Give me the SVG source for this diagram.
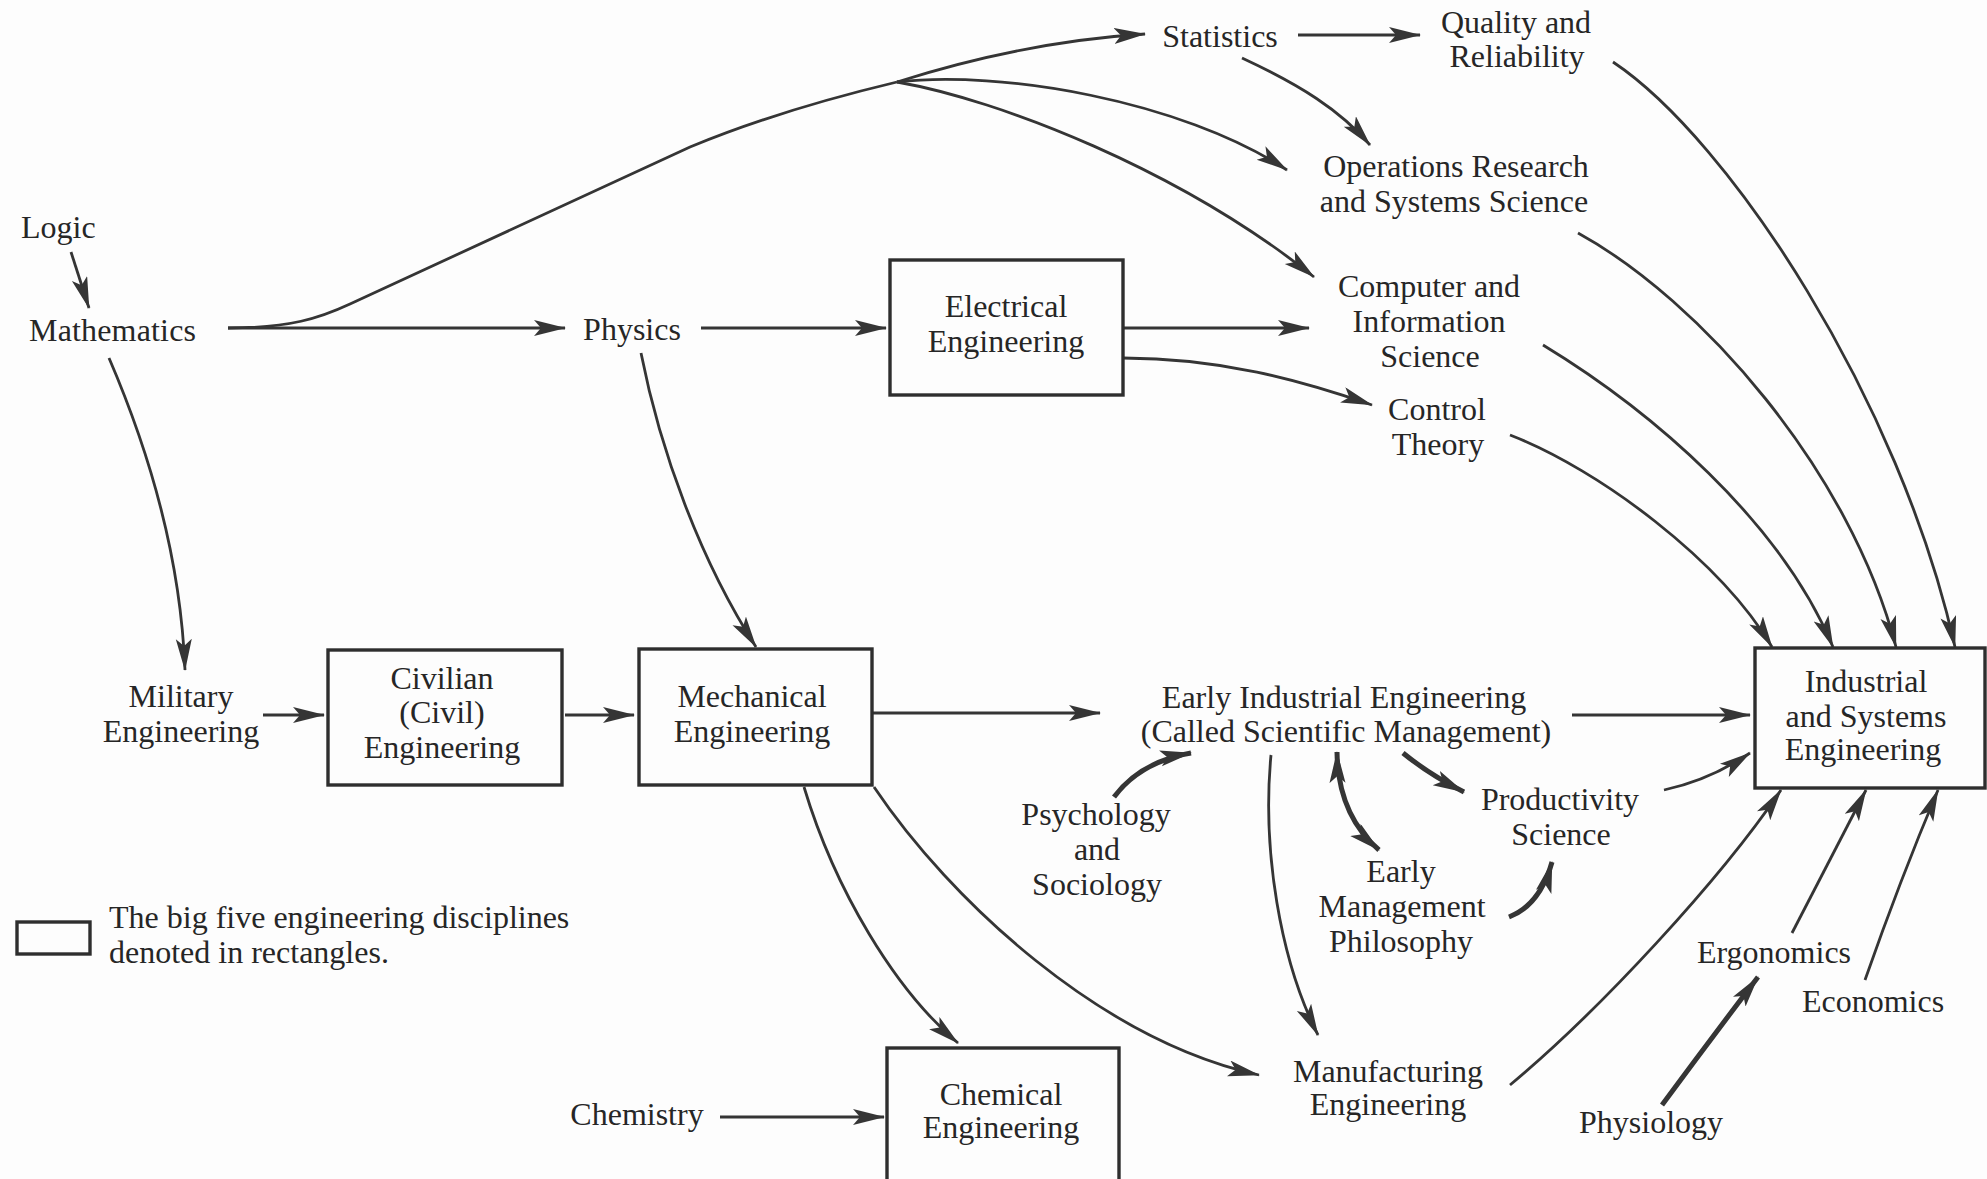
<svg xmlns="http://www.w3.org/2000/svg" width="1987" height="1179" viewBox="0 0 1987 1179">
  <defs>
    <style>
      text { font-family: "Liberation Serif", "Times New Roman", serif; font-size: 32px; fill: #262626; }
      .c { text-anchor: middle; }
      .box { fill: none; stroke: #2e2e2e; stroke-width: 3.4; }
      .ln { fill: none; stroke: #353535; stroke-width: 2.8; }
      .thick { fill: none; stroke: #353535; stroke-width: 5; }
    </style>
    <marker id="ah" markerUnits="userSpaceOnUse" markerWidth="34" markerHeight="18" refX="31" refY="8" orient="auto">
      <path d="M0,0 L32,8 L0,16 L7,8 Z" fill="#353535"/>
    </marker>
    <marker id="ahs" markerUnits="userSpaceOnUse" markerWidth="34" markerHeight="18" refX="31" refY="8" orient="auto-start-reverse">
      <path d="M0,0 L32,8 L0,16 L7,8 Z" fill="#353535"/>
    </marker>
  </defs>
  <rect width="1987" height="1179" fill="#fdfdfd"/>

  <!-- connectors -->
  <g id="connectors">
    <path class="ln" d="M71,252 L89,308" marker-end="url(#ah)"/>
    <path class="ln" d="M228,328 L565,328" marker-end="url(#ah)"/>
    <path class="ln" d="M228,328 C290,328 320,318 350,304 L690,147 C760,118 830,98 897,82"/>
    <path class="ln" d="M897,82 C960,62 1050,40 1145,34" marker-end="url(#ah)"/>
    <path class="ln" d="M897,82 C1000,70 1180,100 1287,170" marker-end="url(#ah)"/>
    <path class="ln" d="M897,82 C1000,100 1180,170 1314,277" marker-end="url(#ah)"/>
    <path class="ln" d="M1298,35 L1420,35" marker-end="url(#ah)"/>
    <path class="ln" d="M1242,58 C1300,85 1340,110 1370,145" marker-end="url(#ah)"/>
    <path class="ln" d="M701,328 L886,328" marker-end="url(#ah)"/>
    <path class="ln" d="M1123,328 L1309,328" marker-end="url(#ah)"/>
    <path class="ln" d="M1123,358 C1220,358 1300,380 1372,405" marker-end="url(#ah)"/>
    <path class="ln" d="M641,353 C660,450 700,560 756,647" marker-end="url(#ah)"/>
    <path class="ln" d="M109,358 C140,430 180,540 185,670" marker-end="url(#ah)"/>
    <path class="ln" d="M263,715 L324,715" marker-end="url(#ah)"/>
    <path class="ln" d="M565,715 L634,715" marker-end="url(#ah)"/>
    <path class="ln" d="M872,713 L1100,713" marker-end="url(#ah)"/>
    <path class="ln" d="M1572,715 L1750,715" marker-end="url(#ah)"/>
    <path class="ln" d="M1613,62 C1730,140 1900,400 1955,647" marker-end="url(#ah)"/>
    <path class="ln" d="M1578,233 C1700,300 1850,470 1896,647" marker-end="url(#ah)"/>
    <path class="ln" d="M1543,345 C1650,410 1780,520 1833,647" marker-end="url(#ah)"/>
    <path class="ln" d="M1510,435 C1600,470 1720,560 1772,647" marker-end="url(#ah)"/>
    <path class="ln" d="M1664,790 Q1710,780 1750,753" marker-end="url(#ah)"/>
    <path class="ln" d="M804,787 C835,890 895,990 958,1043" marker-end="url(#ah)"/>
    <path class="ln" d="M874,787 C950,900 1100,1040 1259,1075" marker-end="url(#ah)"/>
    <path class="ln" d="M1271,755 C1262,850 1280,960 1318,1035" marker-end="url(#ah)"/>
    <path class="ln" d="M720,1117 L884,1117" marker-end="url(#ah)"/>
    <path class="ln" d="M1510,1085 C1600,1010 1720,880 1781,790" marker-end="url(#ah)"/>
    <path class="ln" d="M1792,933 Q1830,860 1866,790" marker-end="url(#ah)"/>
    <path class="ln" d="M1865,980 Q1900,880 1938,790" marker-end="url(#ah)"/>
    <path class="thick" d="M1114,797 Q1140,762 1191,753" marker-end="url(#ah)"/>
    <path class="thick" d="M1337,752 Q1338,815 1379,850" marker-start="url(#ahs)" marker-end="url(#ahs)"/>
    <path class="thick" d="M1403,753 Q1430,775 1464,792" marker-end="url(#ah)"/>
    <path class="thick" d="M1509,917 Q1540,905 1552,862" marker-end="url(#ah)"/>
    <path class="thick" d="M1662,1105 Q1710,1040 1758,977" marker-end="url(#ah)"/>
  </g>

  <!-- plain-text nodes -->
  <g id="logic"><text x="21" y="238">Logic</text></g>
  <g id="mathematics"><text x="29" y="341" textLength="167" lengthAdjust="spacing">Mathematics</text></g>
  <g id="physics"><text class="c" x="632" y="340">Physics</text></g>
  <g id="statistics"><text class="c" x="1220" y="47">Statistics</text></g>
  <g id="quality"><text class="c" x="1516" y="33">Quality and</text><text class="c" x="1517" y="67">Reliability</text></g>
  <g id="operations-research"><text class="c" x="1456" y="177">Operations Research</text><text class="c" x="1454" y="212">and Systems Science</text></g>
  <g id="computer"><text class="c" x="1429" y="297">Computer and</text><text class="c" x="1429" y="332">Information</text><text class="c" x="1430" y="367">Science</text></g>
  <g id="control"><text class="c" x="1437" y="420">Control</text><text class="c" x="1438" y="455">Theory</text></g>
  <g id="military"><text class="c" x="181" y="707">Military</text><text class="c" x="181" y="742">Engineering</text></g>
  <g id="early-ie"><text class="c" x="1344" y="708">Early Industrial Engineering</text><text class="c" x="1346" y="742">(Called Scientific Management)</text></g>
  <g id="productivity"><text class="c" x="1560" y="810">Productivity</text><text class="c" x="1561" y="845">Science</text></g>
  <g id="psychology"><text class="c" x="1096" y="825">Psychology</text><text class="c" x="1097" y="860">and</text><text class="c" x="1097" y="895">Sociology</text></g>
  <g id="early-management"><text class="c" x="1401" y="882">Early</text><text class="c" x="1402" y="917">Management</text><text class="c" x="1401" y="952">Philosophy</text></g>
  <g id="manufacturing"><text class="c" x="1388" y="1082">Manufacturing</text><text class="c" x="1388" y="1115">Engineering</text></g>
  <g id="chemistry"><text class="c" x="637" y="1125">Chemistry</text></g>
  <g id="ergonomics"><text class="c" x="1774" y="963">Ergonomics</text></g>
  <g id="economics"><text class="c" x="1873" y="1012">Economics</text></g>
  <g id="physiology"><text class="c" x="1651" y="1133">Physiology</text></g>

  <!-- the big five, boxed -->
  <g id="electrical">
    <rect class="box" x="890" y="260" width="233" height="135"/>
    <text class="c" x="1006" y="317">Electrical</text><text class="c" x="1006" y="352">Engineering</text>
  </g>
  <g id="civil">
    <rect class="box" x="328" y="650" width="234" height="135"/>
    <text class="c" x="442" y="689">Civilian</text><text class="c" x="442" y="723">(Civil)</text><text class="c" x="442" y="758">Engineering</text>
  </g>
  <g id="mechanical">
    <rect class="box" x="639" y="649" width="233" height="136"/>
    <text class="c" x="752" y="707">Mechanical</text><text class="c" x="752" y="742">Engineering</text>
  </g>
  <g id="chemical">
    <rect class="box" x="887" y="1048" width="232" height="145"/>
    <text class="c" x="1001" y="1105">Chemical</text><text class="c" x="1001" y="1138">Engineering</text>
  </g>
  <g id="industrial-systems">
    <rect class="box" x="1755" y="648" width="230" height="140"/>
    <text class="c" x="1866" y="692">Industrial</text><text class="c" x="1866" y="727">and Systems</text><text class="c" x="1863" y="760">Engineering</text>
  </g>

  <!-- legend -->
  <g id="legend">
    <rect class="box" x="17" y="922" width="73" height="32"/>
    <text x="109" y="928">The big five engineering disciplines</text>
    <text x="109" y="963">denoted in rectangles.</text>
  </g>
</svg>
